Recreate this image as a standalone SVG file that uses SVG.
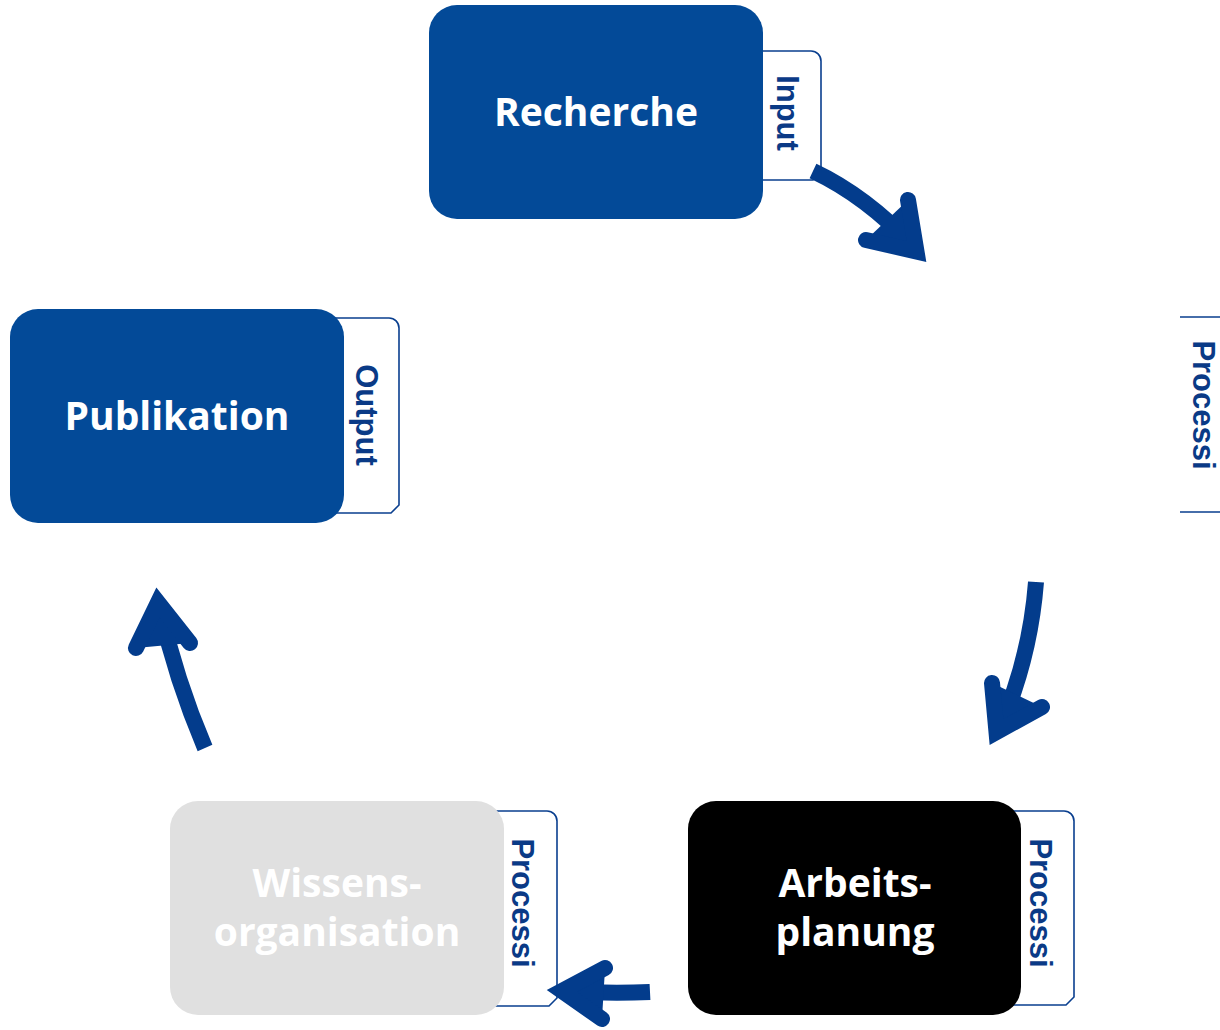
<svg xmlns="http://www.w3.org/2000/svg" width="1220" height="1030" viewBox="0 0 1220 1030">
<style>
.tab{fill:#fff;stroke:#0A3F8F;stroke-width:1.6}
.tabtxt{font-family:"Liberation Sans",Arial,sans-serif;font-weight:700;font-size:31px;fill:#0A3A86;text-anchor:middle}
.lbl{font-family:"Open Sans","Liberation Sans",sans-serif;font-weight:700;font-size:39px;fill:#fff;text-anchor:middle}
.arr{fill:none;stroke:#033C8C;stroke-width:16;stroke-linecap:butt}
.head{fill:#033C8C;stroke:#033C8C;stroke-width:16;stroke-linecap:round;stroke-linejoin:miter;stroke-miterlimit:10}
</style>
<rect width="1220" height="1030" fill="#fff"/>
<g id="recherche">
<path class="tab" d="M740,51 H811 A10,10 0 0 1 821,61 V172 L813,180 H740"/>
<rect x="429" y="5" width="334" height="214" rx="28" fill="#034A98"/>
<text class="lbl" x="596" y="126">Recherche</text>
<text class="tabtxt" transform="translate(777,113) rotate(90)">Input</text>
</g>
<g id="processi-right">
<path class="tab" d="M1180,317 H1228 A10,10 0 0 1 1238,327 V504 L1230,512 H1180"/>
<text class="tabtxt" transform="translate(1193,405) rotate(90)">Processi</text>
</g>
<g id="publikation">
<path class="tab" d="M320,318 H389 A10,10 0 0 1 399,328 V505 L391,513 H320"/>
<rect x="10" y="309" width="334" height="214" rx="28" fill="#034A98"/>
<text class="lbl" x="177" y="430">Publikation</text>
<text class="tabtxt" transform="translate(356,415) rotate(90)">Output</text>
</g>
<g id="wissensorganisation">
<path class="tab" d="M480,811 H547 A10,10 0 0 1 557,821 V998 L549,1006 H480"/>
<rect x="170" y="801" width="334" height="214" rx="28" fill="#E0E0E0"/>
<text class="lbl" x="337" y="897">Wissens-</text>
<text class="lbl" x="337" y="946">organisation</text>
<text class="tabtxt" transform="translate(512,903) rotate(90)">Processi</text>
</g>
<g id="arbeitsplanung">
<path class="tab" d="M1000,811 H1064 A10,10 0 0 1 1074,821 V997 L1066,1005 H1000"/>
<rect x="688" y="801" width="333" height="214" rx="28" fill="#000"/>
<text class="lbl" x="855" y="897">Arbeits-</text>
<text class="lbl" x="855" y="946">planung</text>
<text class="tabtxt" transform="translate(1030,903) rotate(90)">Processi</text>
</g>
<g id="connectors">
<path class="arr" d="M813,171 Q866,196 913,246"/>
<polyline class="head" points="866,240 916.5,251.5 908,200"/>
<path class="arr" d="M1036,582 Q1030,660 998,732"/>
<polyline class="head" points="992,683 996.5,732 1042,707"/>
<path class="arr" d="M650,992 Q610,994 563,991"/>
<polyline class="head" points="605,968 562,991 602,1019"/>
<path class="arr" d="M205,748 Q176,680 159,605"/>
<polyline class="head" points="136,648 158,602.5 190,643"/>
</g>
</svg>
